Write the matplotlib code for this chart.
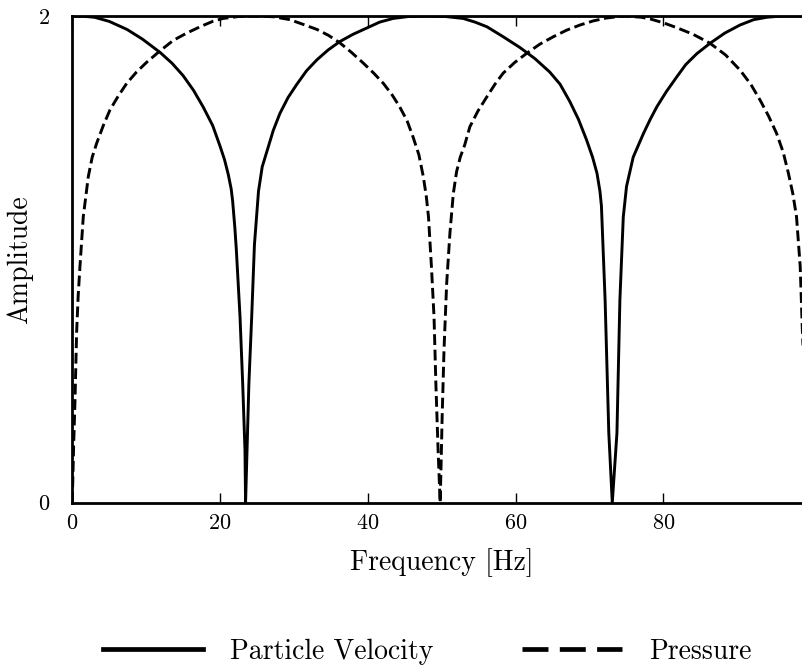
import matplotlib
matplotlib.use("Agg")
import matplotlib.pyplot as plt
from matplotlib.lines import Line2D

plt.rcParams['font.family'] = ['cmr10', 'DejaVu Serif']
plt.rcParams['mathtext.fontset'] = 'cm'
plt.rcParams['axes.formatter.use_mathtext'] = True

# Particle velocity (solid)
vel_freq = [0.0, 1.5, 3.0, 5.0, 7.4, 9.5, 11.9, 13.5, 15.0, 16.4, 17.7, 19.0, 20.0,
            20.6, 21.1, 21.5, 21.7, 22.0, 22.2, 22.7, 23.06, 23.37, 23.45,
            23.65, 23.9, 24.28, 24.65, 25.2, 25.7, 26.4, 27.2, 28.1, 29.2, 30.4,
            31.7, 33.1, 34.6, 36.2, 38.0, 39.8, 41.6, 43.4, 45.5, 48.0, 50.5, 52.9,
            54.5, 56.1, 58.3, 60.6, 62.6, 64.6, 66.0, 67.3, 68.5, 69.6, 70.4, 71.0,
            71.4, 71.6, 72.1, 72.6, 73.07, 73.7, 74.1, 74.56, 75.0, 75.9, 77.3, 78.2,
            79.1, 80.4, 81.8, 83.0, 84.5, 86.3, 88.3, 90.35, 92.2, 94.0, 96.0, 99.0]
vel_amp = [2.0, 1.999, 1.995, 1.978, 1.945, 1.905, 1.85, 1.806, 1.755, 1.695, 1.627, 1.55, 1.465,
           1.41, 1.35, 1.29, 1.24, 1.13, 1.04, 0.764, 0.49, 0.217, 0.0,
           0.217, 0.49, 0.764, 1.06, 1.28, 1.38, 1.45, 1.53, 1.60, 1.665, 1.72,
           1.775, 1.82, 1.86, 1.895, 1.925, 1.95, 1.975, 1.99, 1.998, 2.0, 1.998, 1.99,
           1.975, 1.956, 1.915, 1.87, 1.825, 1.77, 1.72, 1.65, 1.575, 1.49, 1.42, 1.354,
           1.28, 1.22, 0.833, 0.286, 0.0, 0.286, 0.833, 1.175, 1.30, 1.42, 1.518, 1.575,
           1.627, 1.69, 1.75, 1.80, 1.845, 1.888, 1.93, 1.963, 1.985, 1.995, 2.0, 2.0]

# Pressure (dashed)
pre_freq = [0.0, 0.2, 0.37, 0.59, 0.8, 1.04, 1.49, 2.17, 2.7, 3.3, 4.2, 5.1, 6.2, 7.36,
            8.7, 10.07, 11.8, 13.67, 15.5, 17.3, 19.0, 20.4, 22.5, 24.9, 27.2, 29.46,
            31.3, 33.1, 34.7, 36.2, 37.8, 39.4, 40.8, 42.1, 43.3, 44.3, 45.3, 46.1,
            46.9, 47.5, 47.9, 48.2, 48.6, 48.95, 49.2, 49.5, 49.78,
            49.9, 50.05, 50.3, 50.66, 51.1, 51.56, 52.0, 52.5, 53.1, 53.8, 54.9, 56.1,
            57.2, 58.3, 59.9, 61.5, 63.3, 65.1, 66.9, 68.7, 70.5, 72.3, 74.7, 77.0,
            78.2, 80.0, 81.8, 84.0, 86.3, 88.4, 90.35, 91.8, 93.06, 94.2, 95.3, 96.2,
            96.9, 97.5, 98.0, 98.5, 98.8, 99.2, 99.6]
pre_amp = [0.0, 0.25, 0.42, 0.70, 0.85, 0.97, 1.175, 1.34, 1.42, 1.477, 1.55, 1.614, 1.67, 1.723,
           1.77, 1.81, 1.855, 1.90, 1.93, 1.956, 1.978, 1.99, 1.998, 2.0, 1.997, 1.985,
           1.965, 1.945, 1.92, 1.89, 1.85, 1.806, 1.765, 1.723, 1.675, 1.627, 1.57, 1.504,
           1.43, 1.34, 1.26, 1.175, 0.97, 0.764, 0.49, 0.217, 0.0,
           0.15, 0.353, 0.627, 0.90, 1.107, 1.27, 1.36, 1.42, 1.47, 1.545, 1.61, 1.668,
           1.72, 1.765, 1.81, 1.847, 1.885, 1.915, 1.942, 1.963, 1.98, 1.992, 2.0, 1.995,
           1.988, 1.972, 1.952, 1.925, 1.888, 1.84, 1.778, 1.72, 1.655, 1.59, 1.518, 1.44,
           1.354, 1.27, 1.175, 0.97, 0.70, 0.42, 0.0]

x_ticks = [0, 20, 40, 60, 80]
y_ticks = [0, 2]
labels = ["Particle Velocity", "Pressure"]

fig = plt.figure(figsize=(8.02, 6.65), dpi=100)
ax = fig.add_axes([0.0901, 0.2441, 0.9215, 0.7318])

ax.plot(vel_freq, vel_amp, color='black', lw=2.1, ls='-')
ax.plot(pre_freq, pre_amp, color='black', lw=2.1, ls='--')

ax.set_xlim(0, 100)
ax.set_ylim(0, 2)
ax.set_xticks(x_ticks)
ax.set_yticks(y_ticks)
ax.tick_params(axis='x', direction='in', top=True, length=7, width=1.0,
               pad=8, labelsize=16)
ax.tick_params(axis='y', length=0, pad=16, labelsize=16)
for s in ax.spines.values():
    s.set_linewidth(2.0)

ax.set_xlabel("Frequency [Hz]", fontsize=20, labelpad=11)
ax.set_ylabel("Amplitude", fontsize=20, labelpad=3)

handles = [Line2D([], [], color='black', lw=3.4, ls='-'),
           Line2D([], [], color='black', lw=3.4, ls=(0, (5.5, 2.4)))]
fig.legend(handles, labels, loc='center', ncol=2, frameon=False,
           bbox_to_anchor=(0.5324, 0.020), bbox_transform=fig.transFigure,
           fontsize=20, handlelength=3.6, handletextpad=0.97, columnspacing=3.2)

fig.savefig("out.png", dpi=100)
